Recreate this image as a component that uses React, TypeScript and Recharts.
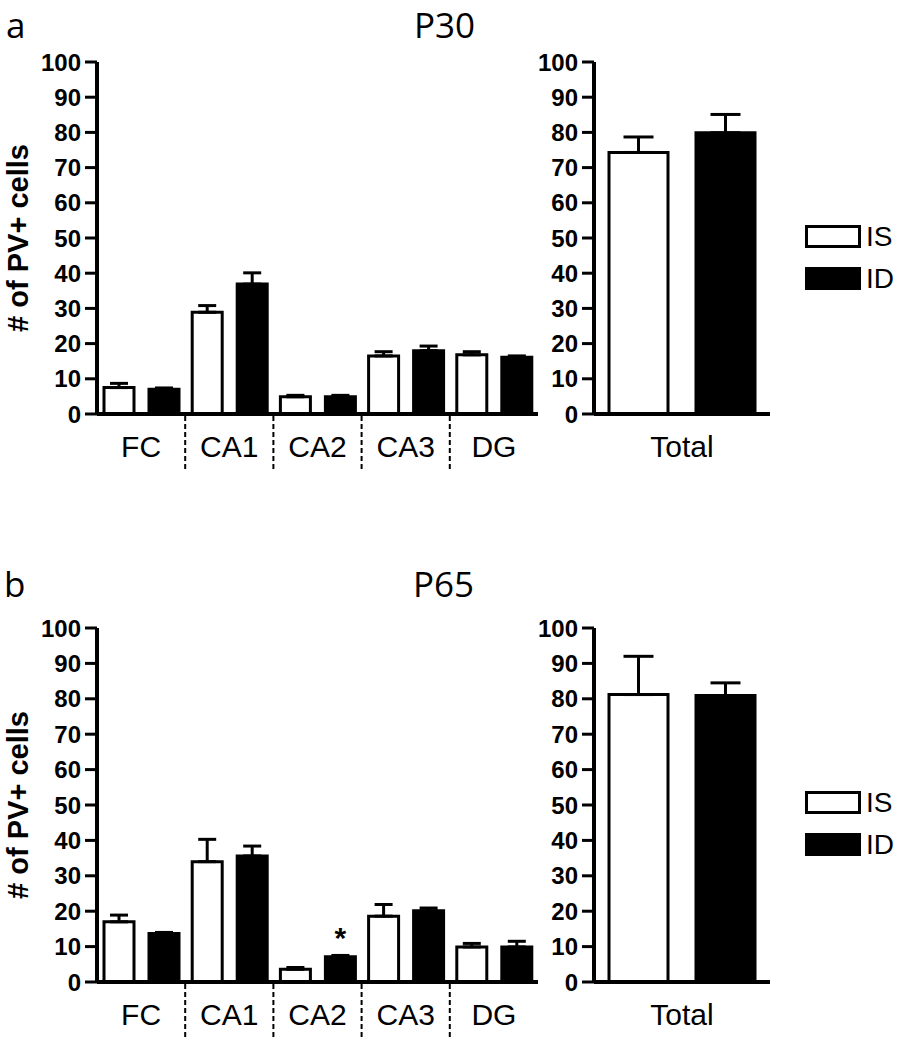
import React from 'react';
import { Bar, BarChart, ErrorBar, LabelList, Legend, XAxis, YAxis } from 'recharts';

const regions = ['FC', 'CA1', 'CA2', 'CA3', 'DG'];
const seriesNames = ['IS', 'ID'];
const yTicks = [0, 10, 20, 30, 40, 50, 60, 70, 80, 90, 100];

// P30
const p30IS = [7.5, 28.9, 4.9, 16.5, 16.8];
const p30ISErr = [1.2, 1.9, 0.4, 1.2, 0.9];
const p30ID = [7.0, 36.9, 4.9, 18.0, 16.1];
const p30IDErr = [0.4, 3.2, 0.4, 1.3, 0.4];
const p30Total = [74.3, 79.9];
const p30TotalErr = [4.4, 5.2];

// P65
const p65IS = [17.0, 34.0, 3.6, 18.6, 9.9];
const p65ISErr = [1.9, 6.3, 0.5, 3.3, 1.0];
const p65ID = [13.7, 35.6, 7.1, 20.1, 9.9];
const p65IDErr = [0.3, 2.8, 0.4, 0.8, 1.6];
const p65IDSig = ['', '', '*', '', ''];
const p65Total = [81.2, 80.9];
const p65TotalErr = [10.8, 3.6];

const FONT = 'Liberation Sans, Arial, Helvetica, sans-serif';
const TITLE_FONT = 'Open Sans, Noto Sans, sans-serif';

const LEFT_W = 550;
const Y_W = 97;
const LEFT_RIGHT_MARGIN = 12;
const RIGHT_LEFT = 497;
const RIGHT_W = 415;
const RIGHT_RIGHT_MARGIN = 142;
const TOP_MARGIN = 22;
const X_H = 60;

const buildRegions = (is: number[], isErr: number[], id: number[], idErr: number[], sig?: string[]) =>
  regions.map((r, i) => ({
    region: r,
    IS: is[i],
    ID: id[i],
    isErr: [0, isErr[i]],
    idErr: [0, idErr[i]],
    sig: sig ? sig[i] : '',
  }));

const buildTotal = (vals: number[], errs: number[]) => [
  { region: 'Total', IS: vals[0], ID: vals[1], isErr: [0, errs[0]], idErr: [0, errs[1]] },
];

const RegionTick = (props: any) => {
  const { x, y, payload, index, band } = props;
  return (
    <g>
      <text x={x} y={y + 43} textAnchor="middle" fontSize={30} fontFamily={FONT} fill="#000">
        {payload.value}
      </text>
      {band && index > 0 && (
        <line
          x1={x - band / 2}
          x2={x - band / 2}
          y1={y + 2}
          y2={y + 56}
          stroke="#000"
          strokeWidth={2}
          strokeDasharray="5 3"
        />
      )}
    </g>
  );
};

const yLabel = (props: any) => {
  const vb = props.viewBox || { y: TOP_MARGIN, height: 352 };
  const cy = vb.y + vb.height / 2;
  return (
    <text
      x={18}
      y={cy}
      transform={`rotate(-90, 18, ${cy})`}
      textAnchor="middle"
      dominantBaseline="central"
      fontSize={29}
      fontWeight="bold"
      fontFamily={FONT}
      fill="#000"
    >
      # of PV+ cells
    </text>
  );
};

const renderLegend = (props: any) => {
  const items = [...(props.payload || [])].sort(
    (a: any, b: any) => seriesNames.indexOf(a.value) - seriesNames.indexOf(b.value)
  );
  return (
    <div style={{ margin: 0, padding: 0 }}>
      {items.map((entry: any) => (
        <div key={entry.value} style={{ display: 'flex', alignItems: 'center', height: 23, marginBottom: 19 }}>
          <div
            style={{
              width: 56,
              height: 23,
              boxSizing: 'border-box',
              border: '3px solid #000',
              background: entry.color,
            }}
          />
          <span style={{ marginLeft: 5, fontSize: 28, lineHeight: 1, fontFamily: FONT, color: '#000' }}>
            {entry.value}
          </span>
        </div>
      ))}
    </div>
  );
};

type ChartProps = { data: any[]; top: number; plotHeight: number };

const yAxisProps = {
  domain: [0, 100] as [number, number],
  ticks: yTicks,
  interval: 0 as const,
  width: Y_W,
  tickSize: 12,
  tickMargin: 4,
  axisLine: { stroke: '#000', strokeWidth: 4 },
  tickLine: { stroke: '#000', strokeWidth: 3 },
  tick: { fill: '#000', fontSize: 24, fontWeight: 'bold', fontFamily: FONT },
};

function RegionChart({ data, top, plotHeight }: ChartProps) {
  const band = (LEFT_W - Y_W - LEFT_RIGHT_MARGIN) / regions.length;
  const hasSig = data.some((d) => d.sig);
  return (
    <div style={{ position: 'absolute', left: 0, top }}>
      <BarChart
        width={LEFT_W}
        height={TOP_MARGIN + plotHeight + X_H}
        data={data}
        margin={{ top: TOP_MARGIN, right: LEFT_RIGHT_MARGIN, bottom: 0, left: 0 }}
        barSize={30}
        barGap={15}
      >
        <XAxis
          dataKey="region"
          interval={0}
          height={X_H}
          tickSize={0}
          tickMargin={0}
          tickLine={false}
          axisLine={{ stroke: '#000', strokeWidth: 4 }}
          tick={(p: any) => <RegionTick {...p} band={band} />}
        />
        <YAxis {...yAxisProps} label={{ content: yLabel }} />
        <Bar dataKey="IS" name="IS" fill="#fff" stroke="#000" strokeWidth={3} isAnimationActive={false}>
          <ErrorBar dataKey="isErr" width={9} stroke="#000" strokeWidth={3} direction="y" />
        </Bar>
        <Bar dataKey="ID" name="ID" fill="#000" stroke="#000" strokeWidth={3} isAnimationActive={false}>
          <ErrorBar dataKey="idErr" width={9} stroke="#000" strokeWidth={3} direction="y" />
          {hasSig && (
            <LabelList dataKey="sig" position="top" offset={9} fill="#000" fontSize={30} fontWeight="bold" fontFamily={FONT} />
          )}
        </Bar>
      </BarChart>
    </div>
  );
}

function TotalChart({ data, top, plotHeight }: ChartProps) {
  return (
    <div style={{ position: 'absolute', left: RIGHT_LEFT, top }}>
      <BarChart
        width={RIGHT_W}
        height={TOP_MARGIN + plotHeight + X_H}
        data={data}
        margin={{ top: TOP_MARGIN, right: RIGHT_RIGHT_MARGIN, bottom: 0, left: 0 }}
        barSize={59}
        barGap={28}
      >
        <XAxis
          dataKey="region"
          interval={0}
          height={X_H}
          tickSize={0}
          tickMargin={0}
          tickLine={false}
          axisLine={{ stroke: '#000', strokeWidth: 4 }}
          tick={(p: any) => <RegionTick {...p} />}
        />
        <YAxis {...yAxisProps} />
        <Legend
          layout="vertical"
          align="center"
          verticalAlign="middle"
          content={renderLegend}
          wrapperStyle={{ left: 308, top: 185, width: 110 }}
        />
        <Bar dataKey="IS" name="IS" fill="#fff" stroke="#000" strokeWidth={3} isAnimationActive={false}>
          <ErrorBar dataKey="isErr" width={15} stroke="#000" strokeWidth={3} direction="y" />
        </Bar>
        <Bar dataKey="ID" name="ID" fill="#000" stroke="#000" strokeWidth={3} isAnimationActive={false}>
          <ErrorBar dataKey="idErr" width={15} stroke="#000" strokeWidth={3} direction="y" />
        </Bar>
      </BarChart>
    </div>
  );
}

export default function App() {
  const p30Regions = buildRegions(p30IS, p30ISErr, p30ID, p30IDErr);
  const p65Regions = buildRegions(p65IS, p65ISErr, p65ID, p65IDErr, p65IDSig);
  const p30Totals = buildTotal(p30Total, p30TotalErr);
  const p65Totals = buildTotal(p65Total, p65TotalErr);

  return (
    <div style={{ position: 'absolute', left: 0, top: 0, width: 912, height: 1050, background: '#fff' }}>
      <svg width={912} height={1050} style={{ position: 'absolute', left: 0, top: 0 }}>
        <g fontFamily={TITLE_FONT} fontSize={35} fill="#000">
          <text x={6} y={38}>a</text>
          <text x={414} y={38}>P30</text>
          <text x={4} y={597}>b</text>
          <text x={413} y={597}>P65</text>
        </g>
      </svg>
      <RegionChart data={p30Regions} top={40} plotHeight={352} />
      <TotalChart data={p30Totals} top={40} plotHeight={352} />
      <RegionChart data={p65Regions} top={606} plotHeight={354} />
      <TotalChart data={p65Totals} top={606} plotHeight={354} />
    </div>
  );
}
